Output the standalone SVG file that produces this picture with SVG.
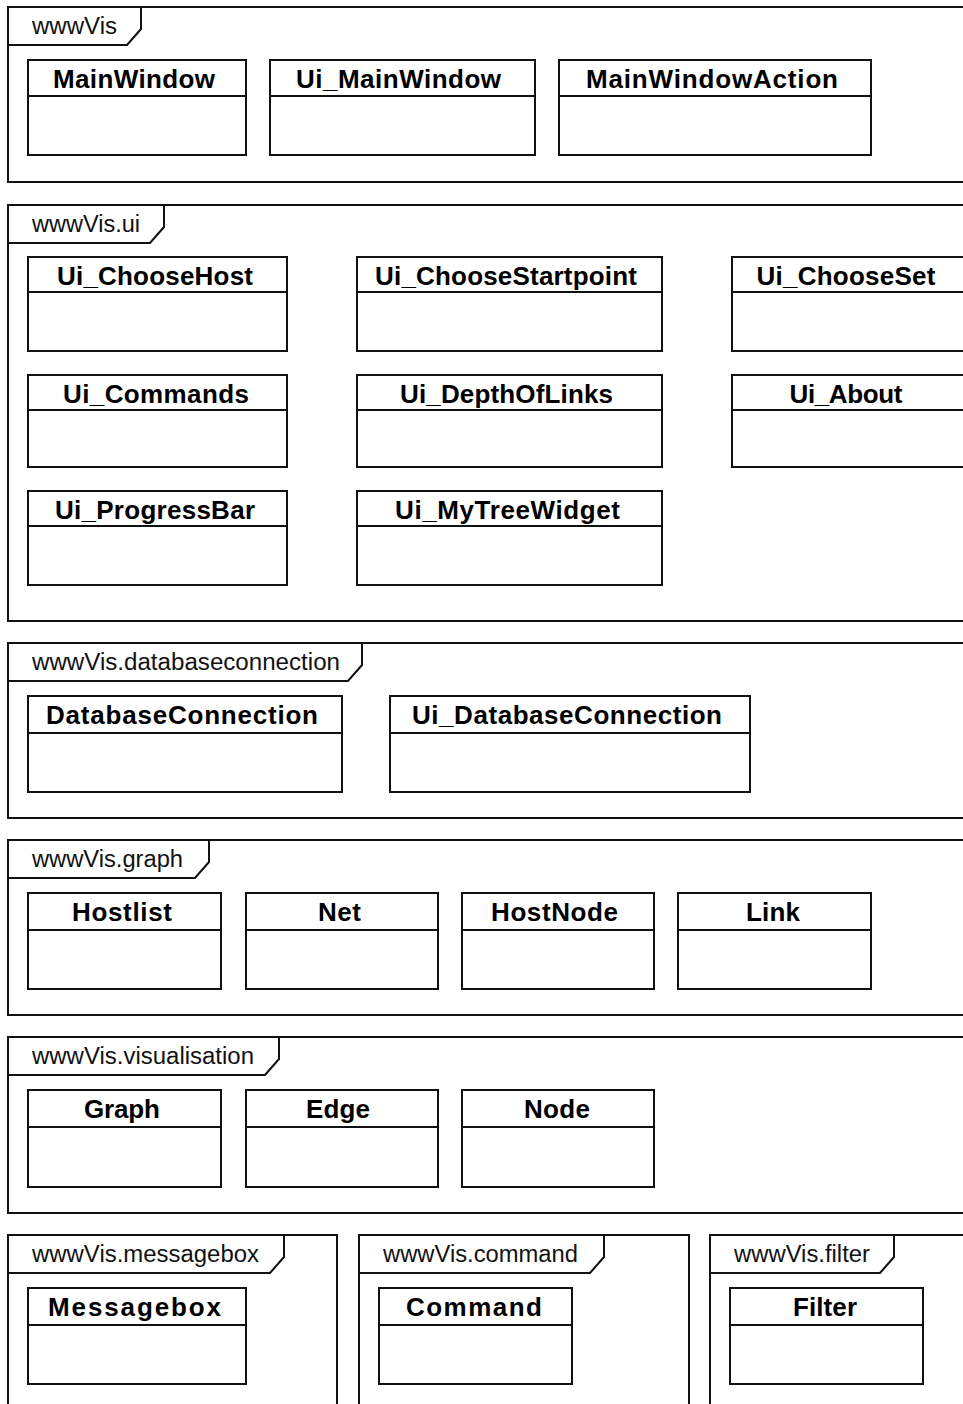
<svg xmlns="http://www.w3.org/2000/svg" width="963" height="1404" viewBox="0 0 963 1404">
<style>
.pkg{fill:none;stroke:#111;stroke-width:2}
.tab{fill:none;stroke:#111;stroke-width:2}
.box{fill:#fff;stroke:#111;stroke-width:2}
.div{stroke:#111;stroke-width:2}
.plabel{font-family:"Liberation Sans",Arial,sans-serif;font-size:23px;fill:#111}
.cname{font-family:"Liberation Sans",Arial,sans-serif;font-size:26px;font-weight:bold;fill:#000;text-anchor:middle}
</style>
<rect width="963" height="1404" fill="#fff"/>

<!-- Packages -->
<g id="pkg-wwwVis">
<rect class="pkg" x="8" y="7" width="1000" height="175"/>
<path class="tab" d="M8,45 H127 L141,29 V7"/>
<text class="plabel" x="32" y="34" textLength="85" lengthAdjust="spacingAndGlyphs">wwwVis</text>
</g>
<g id="pkg-ui">
<rect class="pkg" x="8" y="205" width="1000" height="416"/>
<path class="tab" d="M8,243 H150 L164,227 V205"/>
<text class="plabel" x="32" y="232" textLength="108" lengthAdjust="spacingAndGlyphs">wwwVis.ui</text>
</g>
<g id="pkg-databaseconnection">
<rect class="pkg" x="8" y="643" width="1000" height="175"/>
<path class="tab" d="M8,681 H348 L362,665 V643"/>
<text class="plabel" x="32" y="670" textLength="308" lengthAdjust="spacingAndGlyphs">wwwVis.databaseconnection</text>
</g>
<g id="pkg-graph">
<rect class="pkg" x="8" y="840" width="1000" height="175"/>
<path class="tab" d="M8,878 H195 L209,862 V840"/>
<text class="plabel" x="32" y="867" textLength="151" lengthAdjust="spacingAndGlyphs">wwwVis.graph</text>
</g>
<g id="pkg-visualisation">
<rect class="pkg" x="8" y="1037" width="1000" height="176"/>
<path class="tab" d="M8,1075 H265 L279,1059 V1037"/>
<text class="plabel" x="32" y="1064" textLength="222" lengthAdjust="spacingAndGlyphs">wwwVis.visualisation</text>
</g>
<g id="pkg-messagebox">
<rect class="pkg" x="8" y="1235" width="329" height="200"/>
<path class="tab" d="M8,1273 H270 L284,1257 V1235"/>
<text class="plabel" x="32" y="1262" textLength="227" lengthAdjust="spacingAndGlyphs">wwwVis.messagebox</text>
</g>
<g id="pkg-command">
<rect class="pkg" x="359" y="1235" width="330" height="200"/>
<path class="tab" d="M359,1273 H590 L604,1257 V1235"/>
<text class="plabel" x="383" y="1262" textLength="195" lengthAdjust="spacingAndGlyphs">wwwVis.command</text>
</g>
<g id="pkg-filter">
<rect class="pkg" x="710" y="1235" width="300" height="200"/>
<path class="tab" d="M710,1273 H880 L894,1257 V1235"/>
<text class="plabel" x="734" y="1262" textLength="136" lengthAdjust="spacingAndGlyphs">wwwVis.filter</text>
</g>

<!-- Classes -->
<g id="MainWindow"><rect class="box" x="28" y="60" width="218" height="95"/><line class="div" x1="28" y1="96" x2="246" y2="96"/><text class="cname" x="134" y="88" textLength="162">MainWindow</text></g>
<g id="Ui_MainWindow"><rect class="box" x="270" y="60" width="265" height="95"/><line class="div" x1="270" y1="96" x2="535" y2="96"/><text class="cname" x="398.5" y="88" textLength="205">Ui_MainWindow</text></g>
<g id="MainWindowAction"><rect class="box" x="559" y="60" width="312" height="95"/><line class="div" x1="559" y1="96" x2="871" y2="96"/><text class="cname" x="712" y="88" textLength="252">MainWindowAction</text></g>

<g id="Ui_ChooseHost"><rect class="box" x="28" y="257" width="259" height="94"/><line class="div" x1="28" y1="292" x2="287" y2="292"/><text class="cname" x="155" y="285" textLength="196">Ui_ChooseHost</text></g>
<g id="Ui_ChooseStartpoint"><rect class="box" x="357" y="257" width="305" height="94"/><line class="div" x1="357" y1="292" x2="662" y2="292"/><text class="cname" x="506" y="285" textLength="262">Ui_ChooseStartpoint</text></g>
<g id="Ui_ChooseSet"><rect class="box" x="732" y="257" width="250" height="94"/><line class="div" x1="732" y1="292" x2="982" y2="292"/><text class="cname" x="846" y="285" textLength="179">Ui_ChooseSet</text></g>

<g id="Ui_Commands"><rect class="box" x="28" y="375" width="259" height="92"/><line class="div" x1="28" y1="410" x2="287" y2="410"/><text class="cname" x="156" y="403" textLength="186">Ui_Commands</text></g>
<g id="Ui_DepthOfLinks"><rect class="box" x="357" y="375" width="305" height="92"/><line class="div" x1="357" y1="410" x2="662" y2="410"/><text class="cname" x="506.5" y="403" textLength="213">Ui_DepthOfLinks</text></g>
<g id="Ui_About"><rect class="box" x="732" y="375" width="250" height="92"/><line class="div" x1="732" y1="410" x2="982" y2="410"/><text class="cname" x="846" y="403" textLength="113">Ui_About</text></g>

<g id="Ui_ProgressBar"><rect class="box" x="28" y="491" width="259" height="94"/><line class="div" x1="28" y1="526" x2="287" y2="526"/><text class="cname" x="155" y="519" textLength="200">Ui_ProgressBar</text></g>
<g id="Ui_MyTreeWidget"><rect class="box" x="357" y="491" width="305" height="94"/><line class="div" x1="357" y1="526" x2="662" y2="526"/><text class="cname" x="507.5" y="519" textLength="225">Ui_MyTreeWidget</text></g>

<g id="DatabaseConnection"><rect class="box" x="28" y="696" width="314" height="96"/><line class="div" x1="28" y1="733" x2="342" y2="733"/><text class="cname" x="182" y="724" textLength="272">DatabaseConnection</text></g>
<g id="Ui_DatabaseConnection"><rect class="box" x="390" y="696" width="360" height="96"/><line class="div" x1="390" y1="733" x2="750" y2="733"/><text class="cname" x="567" y="724" textLength="310">Ui_DatabaseConnection</text></g>

<g id="Hostlist"><rect class="box" x="28" y="893" width="193" height="96"/><line class="div" x1="28" y1="930" x2="221" y2="930"/><text class="cname" x="122" y="921" textLength="100">Hostlist</text></g>
<g id="Net"><rect class="box" x="246" y="893" width="192" height="96"/><line class="div" x1="246" y1="930" x2="438" y2="930"/><text class="cname" x="339.5" y="921" textLength="43">Net</text></g>
<g id="HostNode"><rect class="box" x="462" y="893" width="192" height="96"/><line class="div" x1="462" y1="930" x2="654" y2="930"/><text class="cname" x="554.5" y="921" textLength="127">HostNode</text></g>
<g id="Link"><rect class="box" x="678" y="893" width="193" height="96"/><line class="div" x1="678" y1="930" x2="871" y2="930"/><text class="cname" x="773" y="921" textLength="54">Link</text></g>

<g id="Graph"><rect class="box" x="28" y="1090" width="193" height="97"/><line class="div" x1="28" y1="1127" x2="221" y2="1127"/><text class="cname" x="122" y="1118" textLength="76">Graph</text></g>
<g id="Edge"><rect class="box" x="246" y="1090" width="192" height="97"/><line class="div" x1="246" y1="1127" x2="438" y2="1127"/><text class="cname" x="338" y="1118" textLength="64">Edge</text></g>
<g id="Node"><rect class="box" x="462" y="1090" width="192" height="97"/><line class="div" x1="462" y1="1127" x2="654" y2="1127"/><text class="cname" x="557" y="1118" textLength="66">Node</text></g>

<g id="Messagebox"><rect class="box" x="28" y="1288" width="218" height="96"/><line class="div" x1="28" y1="1325" x2="246" y2="1325"/><text class="cname" x="134.5" y="1316" textLength="173">Messagebox</text></g>
<g id="Command"><rect class="box" x="379" y="1288" width="193" height="96"/><line class="div" x1="379" y1="1325" x2="572" y2="1325"/><text class="cname" x="474" y="1316" textLength="136">Command</text></g>
<g id="Filter"><rect class="box" x="730" y="1288" width="193" height="96"/><line class="div" x1="730" y1="1325" x2="923" y2="1325"/><text class="cname" x="825" y="1316" textLength="64">Filter</text></g>

<g id="connectors"></g>
</svg>
